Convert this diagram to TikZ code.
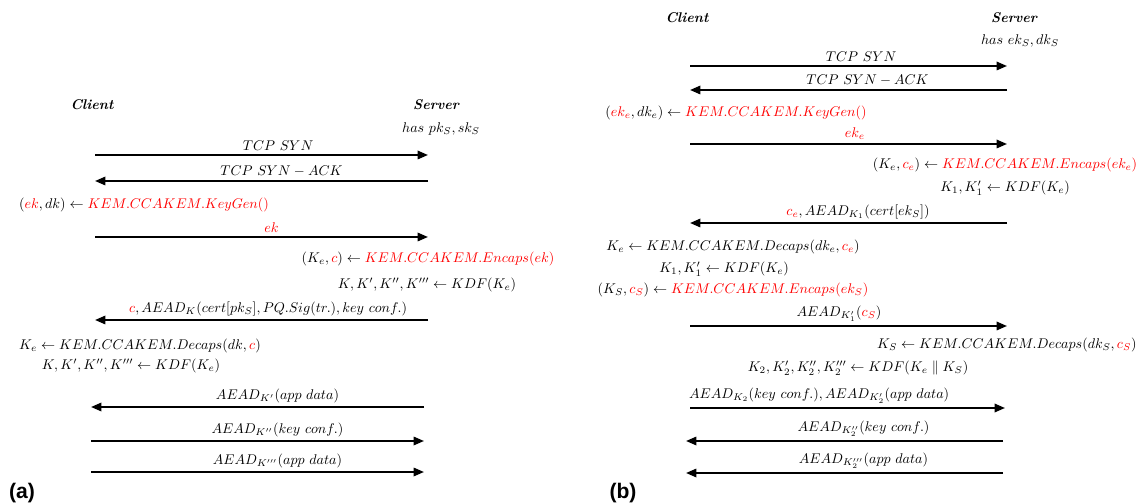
\documentclass[tikz,border=0pt]{standalone}
\usepackage{amsmath}
\usepackage{fontspec}
\newfontfamily\panelfont{Liberation Sans}
\usetikzlibrary{arrows.meta}

\begin{document}
\begin{tikzpicture}[
            x = 0.025cm, y = -0.025cm, % one unit = one pixel of the sketch
            > = {Triangle[length=2.6mm, width=2.1mm]}, % arrow head style
            line width = 1.4pt, % message line style
            font = \fontsize{10}{12}\selectfont
        ]

        \tikzstyle{party}=[font=\fontsize{10}{12}\selectfont\bfseries\itshape]
        \tikzstyle{calc}=[inner sep=1pt]
        \tikzstyle{lbl}=[above, inner sep=2.2pt]
        \tikzstyle{panel}=[font=\fontsize{15}{18}\selectfont\panelfont\bfseries]

        \useasboundingbox (0,0) rectangle (1141,503);

        % (a) one round trip
        \node[party] (cliA) at (92,105) {Client};
        \node[party] (srvA) at (436,105) {Server};
        \node[calc] (keysA) at (441,129) {$has\ pk_S, sk_S$};

        \coordinate (a1c) at (95,155);  \coordinate (a1s) at (428,155);
        \coordinate (a2c) at (95,181);  \coordinate (a2s) at (428,181);
        \coordinate (a3c) at (95,237);  \coordinate (a3s) at (428,237);
        \coordinate (a4c) at (95,320);  \coordinate (a4s) at (428,320);
        \coordinate (a5c) at (91,407);  \coordinate (a5s) at (424,407);
        \coordinate (a6c) at (91,441);  \coordinate (a6s) at (424,441);
        \coordinate (a7c) at (91,472);  \coordinate (a7s) at (424,472);

        \node[calc] (genA) at (144,205) {$(\textcolor{red}{ek}, dk) \leftarrow \textcolor{red}{KEM.CCAKEM.KeyGen()}$};
        \node[calc] (encA) at (428,259) {$(K_e, \textcolor{red}{c}) \leftarrow \textcolor{red}{KEM.CCAKEM.Encaps(ek)}$};
        \node[calc] (kdfsA) at (427,285) {$K, K', K'', K''' \leftarrow KDF(K_e)$};
        \node[calc] (decA) at (140,346) {$K_e \leftarrow KEM.CCAKEM.Decaps(dk, \textcolor{red}{c})$};
        \node[calc] (kdfcA) at (131,366) {$K, K', K'', K''' \leftarrow KDF(K_e)$};

        \path[->] (a1c) edge node[lbl, pos=0.55] {$TCP\ SYN$} (a1s);
        \path[->] (a2s) edge node[lbl, pos=0.44] {$TCP\ SYN - ACK$} (a2c);
        \path[->] (a3c) edge node[lbl, pos=0.53] {$\textcolor{red}{ek}$} (a3s);
        \path[->] (a4s) edge node[lbl, pos=0.48] {$\textcolor{red}{c}, AEAD_K(cert[pk_S], PQ.Sig(tr.), key\ conf.)$} (a4c);
        \path[->] (a5s) edge node[lbl, pos=0.44] {$AEAD_{K'}(app\ data)$} (a5c);
        \path[->] (a6c) edge node[lbl, pos=0.56] {$AEAD_{K''}(key\ conf.)$} (a6s);
        \path[->] (a7c) edge node[lbl, pos=0.56] {$AEAD_{K'''}(app\ data)$} (a7s);

        \node[panel] (tagA) at (22,493) {(a)};

        % (b) with an ephemeral key pair
        \node[party] (cliB) at (687,18) {Client};
        \node[party] (srvB) at (1014,18) {Server};
        \node[calc] (keysB) at (1020,41) {$has\ ek_S, dk_S$};

        \coordinate (b1c) at (690,66);   \coordinate (b1s) at (1007,66);
        \coordinate (b2c) at (690,90);   \coordinate (b2s) at (1007,90);
        \coordinate (b3c) at (690,144);  \coordinate (b3s) at (1007,144);
        \coordinate (b4c) at (690,223);  \coordinate (b4s) at (1007,223);
        \coordinate (b5c) at (690,326);  \coordinate (b5s) at (1007,326);
        \coordinate (b6c) at (690,408);  \coordinate (b6s) at (1005,408);
        \coordinate (b7c) at (686,441);  \coordinate (b7s) at (1003,441);
        \coordinate (b8c) at (686,473);  \coordinate (b8s) at (1003,473);

        \node[calc] (genB) at (736,113) {$(\textcolor{red}{ek_e}, dk_e) \leftarrow \textcolor{red}{KEM.CCAKEM.KeyGen()}$};
        \node[calc] (encB) at (1005,165) {$(K_e, \textcolor{red}{c_e}) \leftarrow \textcolor{red}{KEM.CCAKEM.Encaps(ek_e)}$};
        \node[calc] (kdfsB) at (1005,188) {$K_1, K_1' \leftarrow KDF(K_e)$};
        \node[calc] (decB) at (733,247) {$K_e \leftarrow KEM.CCAKEM.Decaps(dk_e, \textcolor{red}{c_e})$};
        \node[calc] (kdfcB) at (724,269) {$K_1, K_1' \leftarrow KDF(K_e)$};
        \node[calc] (encsB) at (733,290) {$(K_S, \textcolor{red}{c_S}) \leftarrow \textcolor{red}{KEM.CCAKEM.Encaps(ek_S)}$};
        \node[calc, anchor=east] (decsB) at (1139,345) {$K_S \leftarrow KEM.CCAKEM.Decaps(dk_S, \textcolor{red}{c_S})$};
        \node[calc] (kdf2B) at (858,368) {$K_2, K_2', K_2'', K_2''' \leftarrow KDF(K_e \parallel K_S)$};

        \path[->] (b1c) edge node[lbl, pos=0.54] {$TCP\ SYN$} (b1s);
        \path[->] (b2s) edge node[lbl, pos=0.44] {$TCP\ SYN - ACK$} (b2c);
        \path[->] (b3c) edge node[lbl, pos=0.52] {$\textcolor{red}{ek_e}$} (b3s);
        \path[->] (b4s) edge node[lbl, pos=0.47] {$\textcolor{red}{c_e}, AEAD_{K_1}(cert[ek_S])$} (b4c);
        \path[->] (b5c) edge node[lbl, pos=0.47] {$AEAD_{K_1'}(\textcolor{red}{c_S})$} (b5s);
        \path[->] (b6c) edge node[lbl, pos=0.41] {$AEAD_{K_2}(key\ conf.), AEAD_{K_2'}(app\ data)$} (b6s);
        \path[->] (b7s) edge node[lbl, pos=0.44] {$AEAD_{K_2''}(key\ conf.)$} (b7c);
        \path[->] (b8s) edge node[lbl, pos=0.44] {$AEAD_{K_2'''}(app\ data)$} (b8c);

        \node[panel] (tagB) at (623,493) {(b)};

  \end{tikzpicture}
\end{document}
